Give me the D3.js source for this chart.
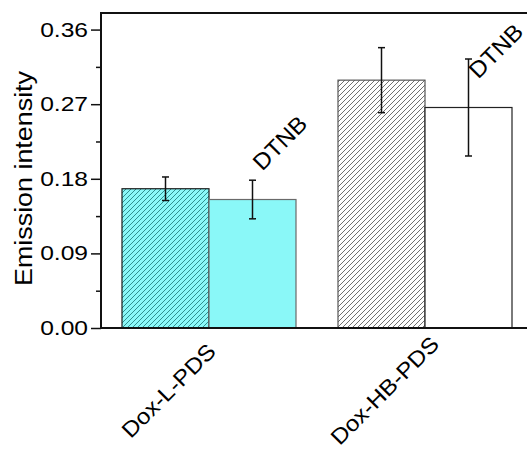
<!DOCTYPE html>
<html>
<head>
<meta charset="utf-8">
<script src="https://cdn.jsdelivr.net/npm/d3@7"></script>
<style>
  body { margin: 0; background: #fff; }
  svg { display: block; font-family: "Liberation Sans", Arial, sans-serif; }
</style>
</head>
<body>
<div id="chart"></div>
<script>
// data
var categories = ["Dox-L-PDS", "Dox-HB-PDS"];
var series = ["none", "DTNB"];
var meanNone = [0.168, 0.299];
var meanDTNB = [0.155, 0.266];
var errNone = [0.0142, 0.0392];
var errDTNB = [0.0233, 0.0585];
var yTicks = [0, 0.09, 0.18, 0.27, 0.36];
var yMinorTicks = [0.045, 0.135, 0.225, 0.315];
var markLabel = "DTNB";

var svgWidth = 527;
var svgHeight = 452;

var margin = { top: 13, left: 101, bottom: 124 };
var plotRight = 533;
var height = svgHeight - margin.top - margin.bottom;

var svg = d3.select("#chart")
  .append("svg")
  .attr("width", svgWidth)
  .attr("height", svgHeight);

// hatch patterns
var defs = svg.append("defs");
function hatch(id, bg, stroke) {
  var p = defs.append("pattern")
    .attr("id", id)
    .attr("patternUnits", "userSpaceOnUse")
    .attr("width", 5)
    .attr("height", 5);
  p.append("rect").attr("width", 5).attr("height", 5).attr("fill", bg);
  p.append("path")
    .attr("d", "M-1,1 l2,-2 M0,5 l5,-5 M4,6 l2,-2")
    .attr("stroke", stroke)
    .attr("stroke-width", 1);
}
hatch("hatchCyan", "#8af8f8", "#2f8f8f");
hatch("hatchGray", "#ffffff", "#707070");

// table for drawing
var bars = [];
categories.forEach(function(c, i) {
  bars.push({ cat: c, ser: "none", v: meanNone[i], e: errNone[i], gi: i });
  bars.push({ cat: c, ser: "DTNB", v: meanDTNB[i], e: errDTNB[i], gi: i });
});

var fills = {
  "Dox-L-PDS|none": "url(#hatchCyan)",
  "Dox-L-PDS|DTNB": "#8af8f8",
  "Dox-HB-PDS|none": "url(#hatchGray)",
  "Dox-HB-PDS|DTNB": "#ffffff"
};
var strokes = {
  "Dox-L-PDS|none": "#1a1a1a",
  "Dox-L-PDS|DTNB": "#6a6a6a",
  "Dox-HB-PDS|none": "#555555",
  "Dox-HB-PDS|DTNB": "#222222"
};

// scales
var xScale = d3.scalePoint()
  .domain(categories)
  .range([margin.left, plotRight])
  .padding(0.5);

var subScale = d3.scaleBand()
  .domain(series)
  .range([-87, 87]);

var yScale = d3.scaleLinear()
  .domain([0, 0.38])
  .range([margin.top + height, margin.top]);

// bars
svg.append("g").selectAll("rect")
  .data(bars)
  .enter()
  .append("rect")
  .attr("x", d => xScale(d.cat) + subScale(d.ser))
  .attr("y", d => yScale(d.v))
  .attr("width", subScale.bandwidth())
  .attr("height", d => yScale(0) - yScale(d.v))
  .attr("fill", d => fills[d.cat + "|" + d.ser])
  .attr("stroke", d => strokes[d.cat + "|" + d.ser])
  .attr("stroke-width", 1.2);

// error bars
var errG = svg.append("g")
  .attr("stroke", "#111")
  .attr("stroke-width", 1.5);
bars.forEach(function(d) {
  var cx = xScale(d.cat) + subScale(d.ser) + subScale.bandwidth() / 2;
  errG.append("line")
    .attr("x1", cx).attr("x2", cx)
    .attr("y1", yScale(d.v + d.e)).attr("y2", yScale(d.v - d.e));
  [d.v + d.e, d.v - d.e].forEach(function(val) {
    errG.append("line")
      .attr("x1", cx - 3.5).attr("x2", cx + 3.5)
      .attr("y1", yScale(val)).attr("y2", yScale(val));
  });
});

// DTNB labels above the second bar of each group
svg.append("g").selectAll("text")
  .data(bars.filter(d => d.ser === "DTNB"))
  .enter()
  .append("text")
  .attr("transform", d => {
    var cx = xScale(d.cat) + subScale(d.ser) + subScale.bandwidth() / 2;
    return `translate(${cx + 33}, ${yScale(d.v) - 51}) rotate(-45) scale(1.05,1)`;
  })
  .attr("text-anchor", "middle")
  .attr("font-size", 23)
  .attr("fill", "#000")
  .text(markLabel);

// y axis
var leftAxis = d3.axisLeft(yScale)
  .tickValues(yTicks)
  .tickSize(10)
  .tickFormat("");
var yAxisG = svg.append("g")
  .attr("transform", `translate(${margin.left}, 0)`)
  .call(leftAxis);
yAxisG.select(".domain").remove();
yAxisG.selectAll(".tick line").attr("stroke", "#111").attr("stroke-width", 1.5);

var minorAxis = d3.axisLeft(yScale)
  .tickValues(yMinorTicks)
  .tickSize(5)
  .tickFormat("");
var minorG = svg.append("g")
  .attr("transform", `translate(${margin.left}, 0)`)
  .call(minorAxis);
minorG.select(".domain").remove();
minorG.selectAll(".tick line").attr("stroke", "#111").attr("stroke-width", 1.5);

svg.append("g").selectAll("text")
  .data(yTicks)
  .enter()
  .append("text")
  .attr("transform", d => `translate(88, ${yScale(d) + 7}) scale(1.2,1)`)
  .attr("text-anchor", "end")
  .attr("font-size", 20.5)
  .attr("fill", "#000")
  .text(d => d3.format(".2f")(d));

// frame lines: left, bottom, top
var frame = svg.append("g").attr("stroke", "#111").attr("stroke-width", 2).attr("fill", "none");
frame.append("line")
  .attr("x1", margin.left).attr("x2", margin.left)
  .attr("y1", yScale.range()[1]).attr("y2", yScale.range()[0] + 1);
frame.append("line")
  .attr("x1", margin.left - 1).attr("x2", plotRight)
  .attr("y1", yScale(0)).attr("y2", yScale(0));
frame.append("line")
  .attr("x1", margin.left - 1).attr("x2", plotRight)
  .attr("y1", yScale.range()[1]).attr("y2", yScale.range()[1]);
frame.append("line")
  .attr("x1", plotRight).attr("x2", plotRight)
  .attr("y1", yScale.range()[1]).attr("y2", yScale.range()[0]);

// axis title
svg.append("text")
  .attr("transform", `translate(32, ${margin.top + height / 2 + 8}) rotate(-90) scale(1.12,1)`)
  .attr("text-anchor", "middle")
  .attr("font-size", 24)
  .attr("fill", "#000")
  .text("Emission intensity");

// category labels
svg.append("g").selectAll("text")
  .data(categories)
  .enter()
  .append("text")
  .attr("transform", d => `translate(${xScale(d) - 35}, 396) rotate(-45) scale(1.1,1)`)
  .attr("text-anchor", "middle")
  .attr("font-size", 22)
  .attr("fill", "#000")
  .text(d => d);
</script>
</body>
</html>
